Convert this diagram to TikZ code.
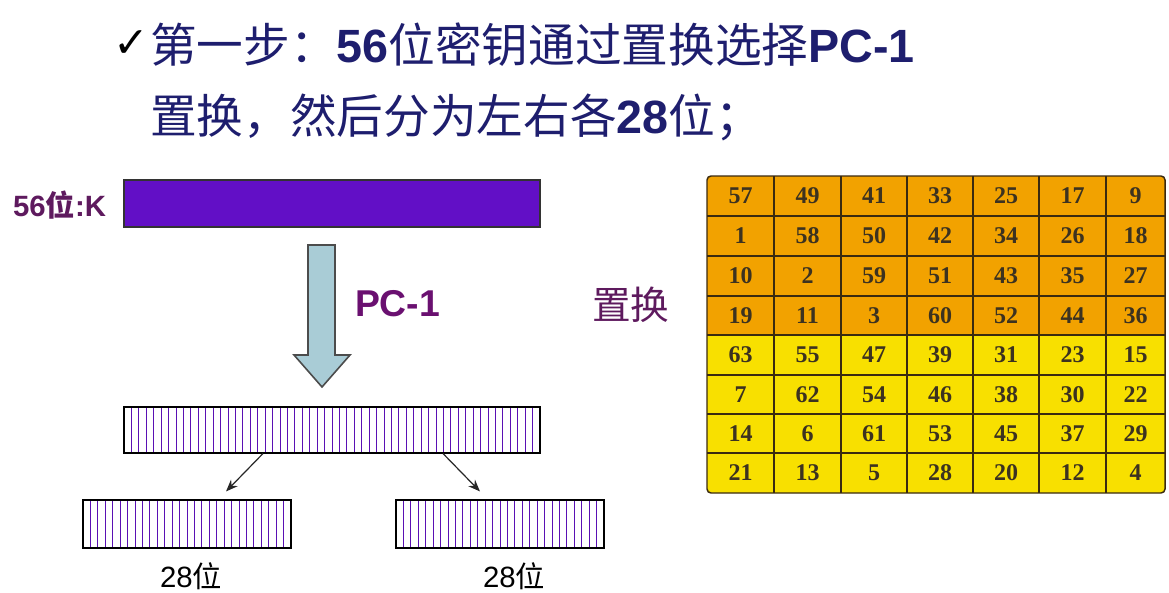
\documentclass[tikz,border=0pt]{standalone}
\usepackage{fontspec}
\setmainfont{Liberation Sans}
\newfontfamily\cjk{Noto Sans CJK SC}
\newfontfamily\tnum{Liberation Serif}
\newfontfamily\symf{DejaVu Sans}
\usetikzlibrary{calc,arrows.meta}
\definecolor{titleblue}{HTML}{1E1E6E}
\definecolor{plum}{HTML}{5E1A5E}
\definecolor{pcplum}{HTML}{6A1070}
\definecolor{barpurple}{HTML}{620FC6}
\definecolor{stripecol}{HTML}{5A10B4}
\definecolor{arrowblue}{HTML}{A9CCD6}
\definecolor{cellorange}{HTML}{F2A200}
\definecolor{cellyellow}{HTML}{F8E000}
\definecolor{gridbrown}{HTML}{3A2A10}
\definecolor{numcol}{HTML}{3C3220}
\tikzset{
  txt/.style={inner sep=0pt, outer sep=0pt},
  keybar/.style={draw=black!80, fill=barpurple, line width=0.8pt, inner sep=0pt},
  stripebox/.style={draw=black, line width=0.8pt, inner sep=0pt},
  stripeline/.style={draw=stripecol, line width=0.6pt},
  thinarrow/.style={draw=black!85, line width=0.9pt, -{Stealth[length=9pt,width=7pt]}},
  gridline/.style={draw=gridbrown, line width=1.3pt},
  num/.style={inner sep=0pt, text=numcol, font=\tnum\bfseries\fontsize{18}{18}\selectfont}
}
\begin{document}
\begin{tikzpicture}[x=0.75pt,y=-0.75pt]
\path[use as bounding box] (0,0) rectangle (1169,592);

% title
\node[txt, anchor=base west, text=black, font=\symf\fontsize{32}{32}\selectfont] (chk) at (113,58) {✓};
\node[txt, anchor=base west, text=titleblue, font=\fontsize{35}{35}\selectfont] (t1) at (150,63)
  {{\cjk 第一步：}\textbf{56}{\cjk 位密钥通过置换选择}\textbf{PC-1}};
\node[txt, anchor=base west, text=titleblue, font=\fontsize{35}{35}\selectfont] (t2) at (150,133)
  {{\cjk 置换，然后分为左右各}\textbf{28}{\cjk 位；}};

% key bar
\node[txt, anchor=east, text=plum, font=\bfseries\fontsize{22}{22}\selectfont] (klab) at (106,205) {56{\cjk 位}:K};
\node[keybar, minimum width=312pt, minimum height=35.25pt] (kbar) at (332,203.5) {};

% block arrow
\draw[fill=arrowblue, draw=black!70, line width=1.2pt]
  (308,245) -- (335,245) -- (335,355) -- (350,355) -- (322,387) -- (294,355) -- (308,355) -- cycle;
\node[txt, anchor=west, text=pcplum, font=\bfseries\fontsize{28}{28}\selectfont] (pc) at (355,304) {PC-1};
\node[txt, anchor=west, text=plum, font=\cjk\fontsize{29}{29}\selectfont] (zh) at (592,305) {置换};

% striped bars
\node[stripebox, minimum width=312pt, minimum height=34.5pt] (mid) at (332,430) {};
\foreach \i in {1,...,55} \draw[stripeline] ({124+\i*(416/56)},407) -- ({124+\i*(416/56)},453);
\node[stripebox, minimum width=312pt, minimum height=34.5pt] at (332,430) {};

\node[stripebox, minimum width=156pt, minimum height=36pt] (lh) at (187,524) {};
\foreach \i in {1,...,27} \draw[stripeline] ({83+\i*(208/28)},500) -- ({83+\i*(208/28)},548);
\node[stripebox, minimum width=156pt, minimum height=36pt] at (187,524) {};

\node[stripebox, minimum width=156pt, minimum height=36pt] (rh) at (500,524) {};
\foreach \i in {1,...,27} \draw[stripeline] ({396+\i*(208/28)},500) -- ({396+\i*(208/28)},548);
\node[stripebox, minimum width=156pt, minimum height=36pt] at (500,524) {};

\draw[thinarrow] ($(mid.south)+(-69,0)$) -- ($(lh.north)+(39,-8)$);
\draw[thinarrow] ($(mid.south)+(111,0)$) -- ($(rh.north)+(-20,-8)$);

\node[txt, text=black, font=\fontsize{22}{22}\selectfont] (l28) at (191,576) {28{\cjk 位}};
\node[txt, text=black, font=\fontsize{22}{22}\selectfont] (r28) at (514,576) {28{\cjk 位}};

% table
\fill[cellorange, rounded corners=3pt] (707,176) -- (1165,176) -- (1165,335) -- (707,335) -- cycle;
\fill[cellyellow, rounded corners=3pt] (707,335) -- (1165,335) -- (1165,493) -- (707,493) -- cycle;
\fill[cellorange] (707,320) rectangle (1165,335);
\fill[cellyellow] (707,335) rectangle (1165,350);
\foreach \x in {774,841,907,973,1039,1106} \draw[gridline] (\x,176) -- (\x,493);
\foreach \y in {216,256,296,335,375,414,453} \draw[gridline] (707,\y) -- (1165,\y);
\draw[gridline, line width=1.1pt, rounded corners=3pt] (707,176) rectangle (1165,493);

\foreach \vals [count=\r] in {{57,49,41,33,25,17,9},{1,58,50,42,34,26,18},{10,2,59,51,43,35,27},{19,11,3,60,52,44,36},{63,55,47,39,31,23,15},{7,62,54,46,38,30,22},{14,6,61,53,45,37,29},{21,13,5,28,20,12,4}} {
  \foreach \v [count=\c] in \vals {
    \pgfmathsetmacro\cx{{740.5,807.5,874,940,1006,1072.5,1135.5}[\c-1]}
    \pgfmathsetmacro\cy{{196,236,276,315.5,355,394.5,433.5,473}[\r-1]}
    \node[num] (n\r-\c) at (\cx,\cy) {\v};
  }
}
\end{tikzpicture}
\end{document}
